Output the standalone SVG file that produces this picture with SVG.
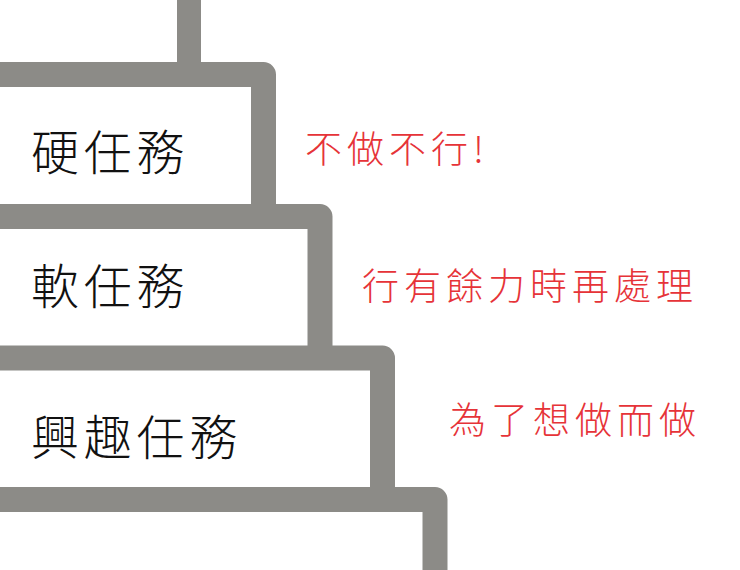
<svg xmlns="http://www.w3.org/2000/svg" width="740" height="570" viewBox="0 0 740 570">
  <style>
    .box { fill: none; stroke: #8c8b87; stroke-width: 25; stroke-linejoin: round; stroke-linecap: butt; }
    .stem { fill: none; stroke: #8c8b87; stroke-width: 24; }
    .lbl { font-family: "Noto Sans CJK TC", "Noto Sans CJK SC", sans-serif; font-size: 48px; fill: #111; letter-spacing: 4.8px; dominant-baseline: central; font-weight: 300; }
    .note { font-family: "Noto Sans CJK TC", "Noto Sans CJK SC", sans-serif; font-size: 37px; fill: #e63338; letter-spacing: 5px; dominant-baseline: central; font-weight: 300; }
  </style>
  <rect width="740" height="570" fill="#ffffff"/>
  <g id="connectors">
    <line class="stem" x1="189" y1="-10" x2="189" y2="75"/>
  </g>
  <g id="box-hard">
    <path class="box" d="M -30 74.5 H 263.5 V 216.5"/>
    <text class="lbl" x="31" y="149">硬任務</text>
    <text class="note" x="305" y="147">不做不行!</text>
  </g>
  <g id="box-soft">
    <path class="box" d="M -30 216.5 H 320 V 358"/>
    <text class="lbl" x="31" y="283">軟任務</text>
    <text class="note" x="362" y="284">行有餘力時再處理</text>
  </g>
  <g id="box-interest">
    <path class="box" d="M -30 358 H 382.5 V 499.5"/>
    <text class="lbl" x="31" y="434">興趣任務</text>
    <text class="note" x="449" y="418">為了想做而做</text>
  </g>
  <g id="box-base">
    <path class="box" d="M -30 499.5 H 435 V 600"/>
  </g>
</svg>
